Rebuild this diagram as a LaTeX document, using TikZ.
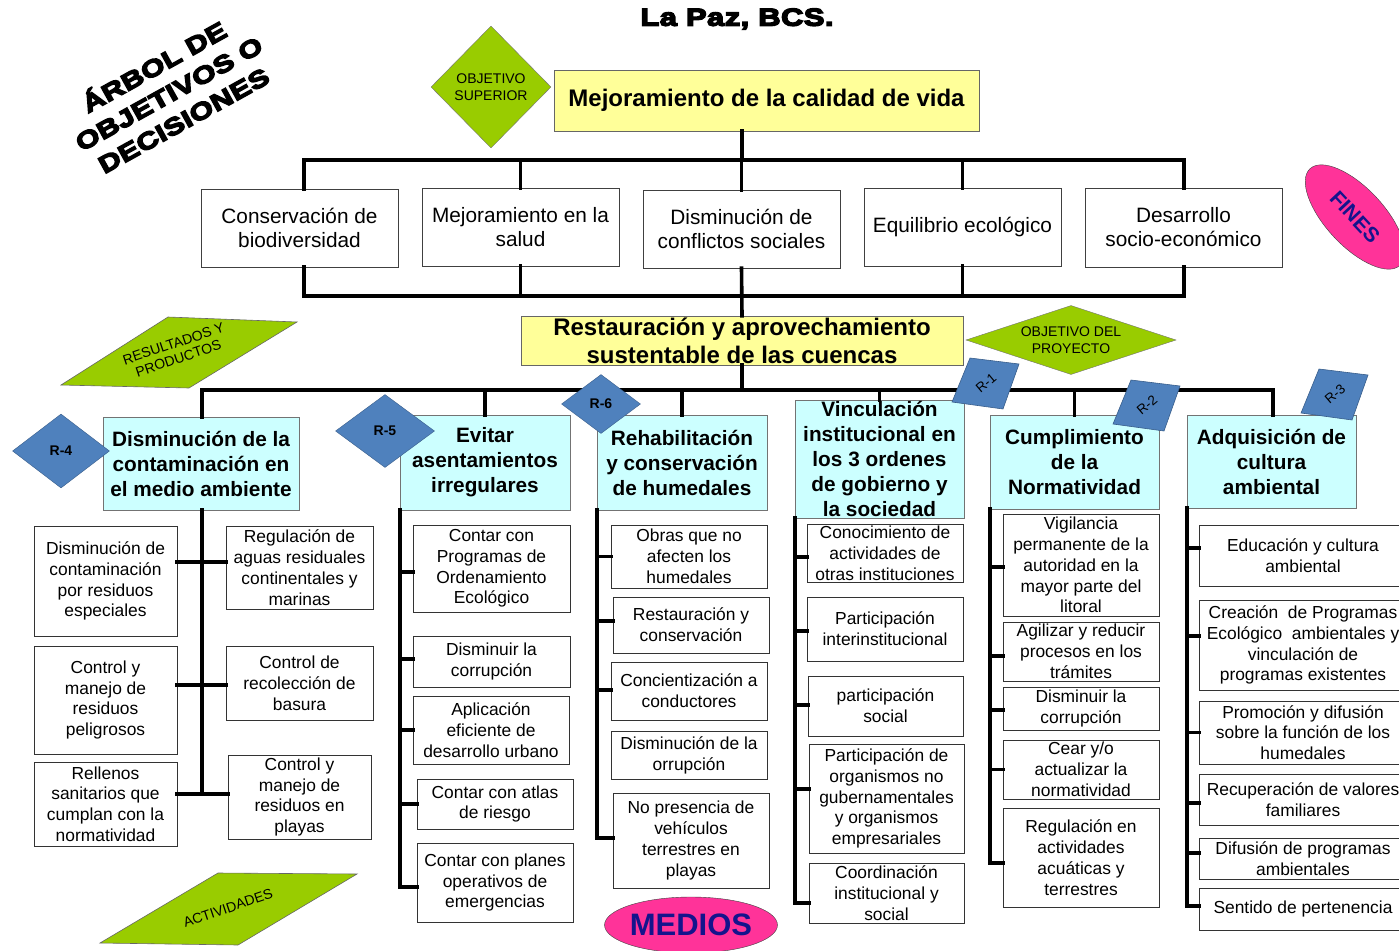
\documentclass[tikz,border=0pt]{standalone}
\usepackage{fontspec}
\setmainfont{Liberation Sans}
\newfontfamily\heavyfont{Liberation Sans}[BoldFeatures={FakeBold=6,FakeStretch=1.26,LetterSpace=2}]
\usetikzlibrary{shapes.geometric,calc}
\definecolor{yellowbg}{HTML}{FFFF99}
\definecolor{cyanbg}{HTML}{CCFFFF}
\definecolor{greenbg}{HTML}{99CC00}
\definecolor{bluebg}{HTML}{4F81BD}
\definecolor{bluedk}{HTML}{385D8A}
\definecolor{pinkbg}{HTML}{FF3399}
\definecolor{navytx}{HTML}{14148C}
\tikzset{
  bar/.style={line width=3.6pt, line cap=rect},
  finbox/.style={draw=black!75, line width=1pt, fill=white},
  fin/.style={align=center, inner sep=0pt, font=\fontsize{20.8}{24}\selectfont},
  goalbox/.style={draw=black!60, line width=1pt, fill=yellowbg},
  goal/.style={align=center, inner sep=0pt, font=\bfseries\fontsize{24}{28}\selectfont},
  headbox/.style={draw=black!55, line width=1pt, fill=cyanbg},
  head/.style={align=center, inner sep=0pt, font=\bfseries\fontsize{20.8}{25}\selectfont},
  actbox/.style={draw=black!80, line width=1pt, fill=white},
  act/.style={align=center, inner sep=0pt, font=\fontsize{17.4}{20.8}\selectfont},
  gdia/.style={diamond, draw=black!55, fill=greenbg, inner sep=0pt, align=center, font=\fontsize{14}{17}\selectfont},
  bdia/.style={diamond, draw=bluedk, fill=bluebg, inner sep=0pt, font=\bfseries\fontsize{14}{14}\selectfont},
  greenpar/.style={draw=black!60, fill=greenbg, line width=0.6pt},
  bluepar/.style={draw=bluedk, fill=bluebg, line width=0.6pt},
  tagtext/.style={inner sep=0pt, font=\fontsize{13.5}{13.5}\selectfont, rotate=40},
  oval/.style={ellipse, draw=black!75, fill=pinkbg, text=navytx, inner sep=0pt},
}
\newcommand\rbox[7]{%
  \path[#1box] (#2,#3) rectangle (#4,#5);
  \node[#1, minimum width={(#4)-(#2)}, minimum height={(#5)-(#3)}] (#6) at ({((#2)+(#4))/2},{((#3)+(#5))/2}) {#7};}
\newcommand\brn[3]{\draw[bar] ($(#1.west)+(0,#3)$) -- ($(#2 |- #1.west)+(0,#3)$);}
\newcommand\rtag[3]{%
  \draw[bluepar, shift={(#1)}] (-16,-25) -- (33,-19) -- (17,26) -- (-34,19) -- cycle;
  \node[tagtext] (#2) at (#1) {#3};}
\begin{document}
\begin{tikzpicture}[x=1pt,y=-1pt]
\useasboundingbox (0,0) rectangle (1399,950);
\clip (0,0) rectangle (1399,950);

% titles
\node[font=\heavyfont\bfseries\fontsize{24.5}{25}\selectfont] (title) at (737,19) {La Paz, BCS.};
\node[rotate=29, align=center, font=\heavyfont\bfseries\fontsize{24}{30.5}\selectfont] (arbol) at (168,92) {ÁRBOL DE\\OBJETIVOS O\\DECISIONES};

% top goal
\node[gdia, minimum width=120, minimum height=122] (objsup) at (491,87) {OBJETIVO\\SUPERIOR};
\rbox{goal}{554}{70}{979}{131}{sup}{Mejoramiento de la calidad de vida}

% ends
\rbox{fin}{201}{189}{398}{267}{f1}{Conservación de\\biodiversidad}
\rbox{fin}{422}{188}{619}{266}{f2}{Mejoramiento en la\\salud}
\rbox{fin}{643}{190}{840}{268}{f3}{Disminución de\\conflictos sociales}
\rbox{fin}{864}{188}{1061}{266}{f4}{Equilibrio ecológico}
\rbox{fin}{1085}{188}{1282}{267}{f5}{Desarrollo\\socio-económico}

\node[oval, minimum width=132, minimum height=58, rotate=-47, font=\bfseries\fontsize{21}{21}\selectfont] (fines) at (1355,217) {FINES};

% project goal
\rbox{goal}{521}{316}{963}{365}{proj}{Restauración y aprovechamiento\\sustentable de las cuencas}
\node[gdia, aspect=3, minimum width=210, minimum height=69] (objproy) at (1071,340) {OBJETIVO DEL\\PROYECTO};

% top connectors
\coordinate (t1) at (742,160);
\coordinate (tl) at (304,160);
\coordinate (tr) at (1184,160);
\coordinate (bl) at (304,296);
\coordinate (br) at (1184,296);
\coordinate (t3) at (742,390);
\coordinate (ll) at (202,390);
\coordinate (lr) at (1273,390);
\draw[bar] (t1 |- sup.south) -- (t1);
\draw[bar] (tl) -- (tr);
\draw[bar] (tl) -- (f1.north -| tl);
\draw[bar] (f2.north |- t1) -- (f2.north);
\draw[bar] (f3.north |- t1) -- (f3.north);
\draw[bar] (f4.north |- t1) -- (f4.north);
\draw[bar] (tr) -- (f5.north -| tr);
\draw[bar] (bl) -- (br);
\draw[bar] (f1.south -| bl) -- (bl);
\draw[bar] (f2.south) -- (f2.south |- bl);
\draw[bar] (f3.south) -- (proj.north);
\draw[bar] (f4.south) -- (f4.south |- bl);
\draw[bar] (f5.south -| br) -- (br);
\draw[bar] (proj.south) -- (t3);
\draw[bar] (ll) -- (lr);

% result headings
\rbox{head}{103}{417}{299}{510}{h1}{Disminución de la\\contaminación en\\el medio ambiente}
\rbox{head}{400}{415}{570}{510}{h2}{Evitar\\asentamientos\\irregulares}
\rbox{head}{597}{415}{767}{510}{h3}{Rehabilitación\\y conservación\\de humedales}
\rbox{head}{795}{400}{964}{518}{h4}{Vinculación\\institucional en\\los 3 ordenes\\de gobierno y\\la sociedad}
\rbox{head}{990}{415}{1159}{509}{h5}{Cumplimiento\\de la\\Normatividad}
\rbox{head}{1187}{415}{1356}{508}{h6}{Adquisición de\\cultura\\ambiental}
\draw[bar] (ll) -- (h1.north -| ll);
\draw[bar] (h2.north |- ll) -- (h2.north);
\draw[bar] (h3.north |- ll) -- (h3.north);
\draw[bar] (h4.north |- ll) -- (h4.north);
\draw[bar] (h5.north |- ll) -- (h5.north);
\draw[bar] (lr) -- (h6.north -| lr);

% column 1
\rbox{act}{34}{526}{177}{636}{a1}{Disminución de\\contaminación\\por residuos\\especiales}
\rbox{act}{34}{646}{177}{754}{a2}{Control y\\manejo de\\residuos\\peligrosos}
\rbox{act}{34}{762}{177}{846}{a3}{Rellenos\\sanitarios que\\cumplan con la\\normatividad}
\rbox{act}{226}{526}{373}{609}{a4}{Regulación de\\aguas residuales\\continentales y\\marinas}
\rbox{act}{226}{646}{373}{720}{a5}{Control de\\recolección de\\basura}
\rbox{act}{228}{755}{371}{839}{a6}{Control y\\manejo de\\residuos en\\playas}
\coordinate (j1) at (202,562);
\coordinate (j2) at (202,685);
\coordinate (j3) at (202,794);
\draw[bar] (h1.south -| j1) -- (j3);
\draw[bar] (a1.east |- j1) -- (a4.west |- j1);
\draw[bar] (a2.east |- j2) -- (a5.west |- j2);
\draw[bar] (a3.east |- j3) -- (a6.west |- j3);

% column 2
\rbox{act}{413}{525}{570}{612}{b1}{Contar con\\Programas de\\Ordenamiento\\Ecológico}
\rbox{act}{413}{636}{570}{687}{b2}{Disminuir la\\corrupción}
\rbox{act}{413}{696}{569}{764}{b3}{Aplicación\\eficiente de\\desarrollo urbano}
\rbox{act}{417}{779}{573}{829}{b4}{Contar con atlas\\de riesgo}
\rbox{act}{417}{843}{573}{922}{b5}{Contar con planes\\operativos de\\emergencias}
\draw[bar] (h2.south west) -- ($(h2.south west |- b5.west)+(0,4.5)$);
\brn{b1}{h2.south west}{3.5}
\brn{b2}{h2.south west}{-2.5}
\brn{b3}{h2.south west}{0}
\brn{b4}{h2.south west}{0}
\brn{b5}{h2.south west}{4.5}

% column 3
\rbox{act}{611}{525}{767}{588}{c1}{Obras que no\\afecten los\\humedales}
\rbox{act}{613}{597}{769}{653}{c2}{Restauración y\\conservación}
\rbox{act}{611}{662}{767}{720}{c3}{Concientización a\\conductores}
\rbox{act}{611}{731}{767}{779}{c4}{Disminución de la\\orrupción}
\rbox{act}{613}{793}{769}{888}{c5}{No presencia de\\vehículos\\terrestres en\\playas}
\draw[bar] (h3.south west) -- ($(h3.south west |- c5.west)+(0,-2.5)$);
\brn{c1}{h3.south west}{0}
\brn{c2}{h3.south west}{-4}
\brn{c3}{h3.south west}{-1}
\brn{c5}{h3.south west}{-2.5}

% column 4
\rbox{act}{807}{524}{963}{582}{d1}{Conocimiento de\\actividades de\\otras instituciones}
\rbox{act}{807}{597}{963}{661}{d2}{Participación\\interinstitucional}
\rbox{act}{808}{676}{963}{736}{d3}{participación\\social}
\rbox{act}{809}{744}{964}{853}{d4}{Participación de\\organismos no\\gubernamentales\\y organismos\\empresariales}
\rbox{act}{809}{863}{964}{923}{d5}{Coordinación\\institucional y\\social}
\draw[bar] (h4.south west) -- ($(h4.south west |- d5.west)+(0,10)$);
\brn{d1}{h4.south west}{4}
\brn{d2}{h4.south west}{2}
\brn{d3}{h4.south west}{-1}
\brn{d4}{h4.south west}{-9.5}
\brn{d5}{h4.south west}{10}

% column 5
\rbox{act}{1003}{514}{1159}{616}{e1}{Vigilancia\\permanente de la\\autoridad en la\\mayor parte del\\litoral}
\rbox{act}{1003}{622}{1159}{681}{e2}{Agilizar y reducir\\procesos en los\\trámites}
\rbox{act}{1003}{687}{1159}{730}{e3}{Disminuir la\\corrupción}
\rbox{act}{1003}{740}{1159}{799}{e4}{Cear y/o\\actualizar la\\normatividad}
\rbox{act}{1003}{808}{1159}{907}{e5}{Regulación en\\actividades\\acuáticas y\\terrestres}
\draw[bar] (h5.south west) -- ($(h5.south west |- e5.west)+(0,5.5)$);
\brn{e1}{h5.south west}{2}
\brn{e2}{h5.south west}{4.5}
\brn{e3}{h5.south west}{1.5}
\brn{e4}{h5.south west}{0}
\brn{e5}{h5.south west}{5.5}

% column 6
\rbox{act}{1199}{525}{1407}{586}{g1}{Educación y cultura\\ambiental}
\rbox{act}{1199}{600}{1407}{690}{g2}{Creación~ de Programas\\Ecológico~ ambientales y\\vinculación de\\programas existentes}
\rbox{act}{1199}{701}{1407}{764}{g3}{Promoción y difusión\\sobre la función de los\\humedales}
\rbox{act}{1199}{774}{1407}{825}{g4}{Recuperación de valores\\familiares}
\rbox{act}{1199}{838}{1407}{879}{g5}{Difusión de programas\\ambientales}
\rbox{act}{1199}{888}{1407}{930}{g6}{Sentido de pertenencia}
\draw[bar] (h6.south west) -- ($(h6.south west |- g6.west)+(0,-3)$);
\brn{g1}{h6.south west}{-7.5}
\brn{g2}{h6.south west}{-9}
\brn{g3}{h6.south west}{0}
\brn{g4}{h6.south west}{3.5}
\brn{g5}{h6.south west}{-5.5}
\brn{g6}{h6.south west}{-3}

% result markers
\node[bdia, minimum width=97, minimum height=74] (r4) at (61,451) {R-4};
\node[bdia, minimum width=99, minimum height=73] (r5) at (385,431) {R-5};
\node[bdia, minimum width=79, minimum height=59] (r6) at (601,404) {R-6};
\rtag{986,383}{r1}{R-1}
\rtag{1147,405}{r2}{R-2}
\rtag{1335,394}{r3}{R-3}

% level labels
\draw[greenpar] (61,385) -- (168,317) -- (297,322) -- (189,388) -- cycle;
\node[rotate=18.5, align=center, inner sep=0pt, font=\fontsize{14}{15.5}\selectfont] (res) at (176,351) {RESULTADOS Y\\PRODUCTOS};
\draw[greenpar] (100,943) -- (218,873) -- (357,874) -- (238,945) -- cycle;
\node[rotate=18.5, inner sep=0pt, font=\fontsize{14}{14}\selectfont] (actv) at (228,908) {ACTIVIDADES};
\node[oval, minimum width=164, minimum height=56, font=\bfseries\fontsize{31}{31}\selectfont] (medios) at (691,925) {MEDIOS};
\end{tikzpicture}
\end{document}
